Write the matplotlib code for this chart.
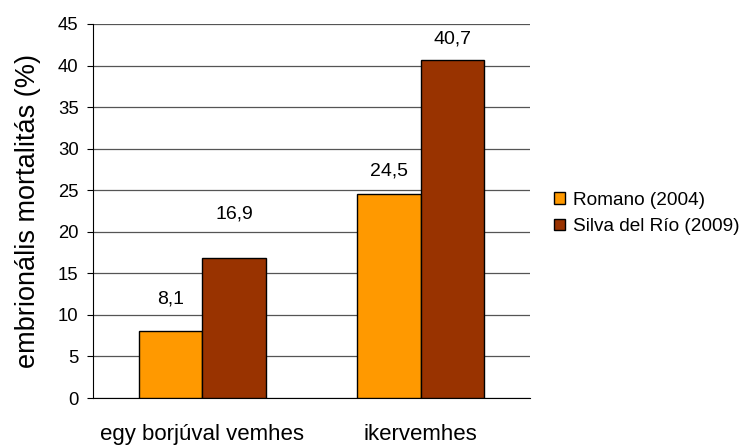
import numpy as np
import matplotlib.pyplot as plt
from matplotlib.patches import Patch

plt.rcParams['font.family'] = ['Liberation Sans', 'DejaVu Sans']

# Data
categories = ['egy borjúval vemhes', 'ikervemhes']
series_names = ['Romano (2004)', 'Silva del Río (2009)']
romano = [8.1, 24.5]
silva = [16.9, 40.7]
colors = ['#FF9900', '#993300']
# label offsets above the bar tops (points), as placed in the original
romano_off = [17, 11]
silva_off = [25, 9]

fig = plt.figure(figsize=(7.48, 4.45), dpi=100)
ax = fig.add_axes([0.1243, 0.1056, 0.5843, 0.8405])

x = np.arange(len(categories))
w = 0.29
b1 = ax.bar(x - w / 2, romano, w, color=colors[0], edgecolor='black', linewidth=1, zorder=3)
b2 = ax.bar(x + w / 2, silva, w, color=colors[1], edgecolor='black', linewidth=1, zorder=3)

for bars, vals, offs in [(b1, romano, romano_off), (b2, silva, silva_off)]:
    for rect, v, off in zip(bars, vals, offs):
        ax.annotate(str(v).replace('.', ','), (rect.get_x() + rect.get_width() / 2, v),
                    xytext=(0, off), textcoords='offset points', ha='center', va='bottom',
                    fontsize=14)

ax.set_xlim(-0.5, 1.5)
ax.set_ylim(0, 45)
ax.set_yticks(np.arange(0, 46, 5))
ax.yaxis.grid(True, color='#555555', linewidth=0.9, zorder=0)
ax.set_axisbelow(True)
ax.tick_params(axis='y', labelsize=13.3, length=4.3, width=0.8, pad=6)
ax.set_xticks(x)
ax.set_xticklabels(categories, fontsize=16)
ax.tick_params(axis='x', length=0, pad=19)
ax.spines['top'].set_visible(False)
ax.spines['right'].set_visible(False)
ax.spines['left'].set_linewidth(0.8)
ax.spines['bottom'].set_linewidth(0.8)
ax.set_ylabel('embrionális mortalitás (%)', fontsize=19.5, labelpad=12)

handles = [Patch(facecolor=c, edgecolor='black', label=n) for c, n in zip(colors, series_names)]
fig.legend(handles=handles, loc='center left', bbox_to_anchor=(0.718, 0.52), frameon=False,
           fontsize=13.7, handlelength=0.55, handleheight=0.55, handletextpad=0.45, labelspacing=0.5)

fig.savefig('out.png', dpi=100)
